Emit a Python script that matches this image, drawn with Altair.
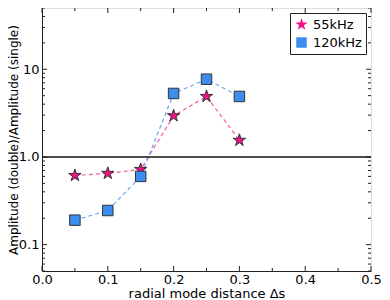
import altair as alt
import pandas as pd

# data
x_vals = [0.05, 0.10, 0.15, 0.20, 0.25, 0.30]
amp_55 = [0.615, 0.65, 0.72, 2.95, 4.9, 1.55]
amp_120 = [0.19, 0.245, 0.60, 5.3, 7.7, 4.9]
series_names = ["55kHz", "120kHz"]

x_major = [0.0, 0.1, 0.2, 0.3, 0.4, 0.5]
x_minor = [0.05, 0.15, 0.25, 0.35, 0.45]
y_major = [0.1, 1.0, 10.0]
y_minor = [0.05, 0.06, 0.07, 0.08, 0.09, 0.2, 0.3, 0.4, 0.5, 0.6, 0.7, 0.8, 0.9,
           2, 3, 4, 5, 6, 7, 8, 9, 20, 30, 40, 50]

W, H = 329, 263
FONT = "DejaVu Sans"

df = pd.DataFrame({
    "x": x_vals * 2,
    "y": amp_55 + amp_120,
    "series": [series_names[0]] * len(x_vals) + [series_names[1]] * len(x_vals),
})

STAR = ("M0,-1 L0.2245,-0.309 L0.951,-0.309 L0.363,0.118 L0.588,0.809 L0,0.382 "
        "L-0.588,0.809 L-0.363,0.118 L-0.951,-0.309 L-0.2245,-0.309 Z")

xs = alt.Scale(domain=[0, 0.5], nice=False, zero=False)
ys = alt.Scale(type="log", domain=[0.05, 50], nice=False)

xenc = alt.X("x:Q", scale=xs, title="radial mode distance Δs",
             axis=alt.Axis(values=x_major, format=".1f", ticks=False, grid=False,
                           labelFlush=False, labelOverlap=False,
                           labelFontSize=13, labelPadding=2, titleFontSize=13,
                           titleFontWeight="normal", titleY=26,
                           titleBaseline="alphabetic", labelFont=FONT, titleFont=FONT,
                           domainColor="#222", labelColor="#000", titleColor="#000"))
yenc = alt.Y("y:Q", scale=ys, title="Amplitude (double)/Amplitude (single)",
             axis=alt.Axis(values=y_major, ticks=False, grid=False, labelFlush=False,
                           labelOverlap=False,
                           labelExpr="datum.value == 1 ? '1.0' : datum.value == 10 ? '10' : '0.1'",
                           labelFontSize=13, labelPadding=3, titleFontSize=12,
                           titleFontWeight="normal", titleX=-34, titleBaseline="top",
                           labelFont=FONT, titleFont=FONT,
                           domainColor="#222", labelColor="#000", titleColor="#000"))

marker_colors = ["#ee1188", "#3b8eef"]
line_colors = ["#f25aa8", "#6aa8f0"]

line_layers = [
    alt.Chart(df).transform_filter(alt.datum.series == name).mark_line(
        strokeDash=[4, 3], strokeWidth=1.2, color=col).encode(x=xenc, y=yenc)
    for name, col in zip(series_names, line_colors)
]

legend = alt.Legend(title=None, orient="top-right", offset=5,
                    labelFontSize=13, labelFont=FONT,
                    strokeColor="#222", fillColor="white",
                    padding=4, rowPadding=3,
                    symbolStrokeColor="#333", symbolStrokeWidth=1,
                    labelColor="#000")

points = alt.Chart(df).mark_point(filled=True, opacity=1, stroke="#333",
                                  strokeWidth=1).encode(
    x=alt.X("x:Q", scale=xs),
    y=alt.Y("y:Q", scale=ys),
    fill=alt.Fill("series:N", scale=alt.Scale(domain=series_names, range=marker_colors),
                  legend=legend),
    shape=alt.Shape("series:N", scale=alt.Scale(domain=series_names, range=[STAR, "square"]),
                    legend=legend),
    size=alt.Size("series:N", scale=alt.Scale(domain=series_names, range=[170, 110]),
                  legend=legend),
)

hline = alt.Chart(pd.DataFrame({"y": [1.0]})).mark_rule(color="#111", strokeWidth=1.5).encode(
    y=alt.Y("y:Q", scale=ys))

# inner tick marks (matplotlib style)
def xticks(vals, length):
    d = pd.DataFrame({"x": vals})
    bot = alt.Chart(d).mark_rule(color="#222", strokeWidth=1).encode(
        x=alt.X("x:Q", scale=xs), y=alt.value(H), y2=alt.value(H - length))
    top = alt.Chart(d).mark_rule(color="#222", strokeWidth=1).encode(
        x=alt.X("x:Q", scale=xs), y=alt.value(0), y2=alt.value(length))
    return [bot, top]

def yticks(vals, length):
    d = pd.DataFrame({"y": vals})
    left = alt.Chart(d).mark_rule(color="#222", strokeWidth=1).encode(
        y=alt.Y("y:Q", scale=ys), x=alt.value(0), x2=alt.value(length))
    right = alt.Chart(d).mark_rule(color="#222", strokeWidth=1).encode(
        y=alt.Y("y:Q", scale=ys), x=alt.value(W), x2=alt.value(W - length))
    return [left, right]

tick_layers = xticks(x_major, 5) + xticks(x_minor, 3) + yticks(y_major, 5) + yticks(y_minor, 3)

chart = alt.layer(*line_layers, hline, *tick_layers, points).properties(
    width=W, height=H,
    autosize=alt.AutoSizeParams(type="none"),
    padding={"left": 34, "top": 0, "right": 11, "bottom": 29},
).configure_view(
    stroke="#222", strokeWidth=1.5
).configure(
    background="white"
)

chart.save("out.html", embed_options={"renderer": "svg", "actions": False})
